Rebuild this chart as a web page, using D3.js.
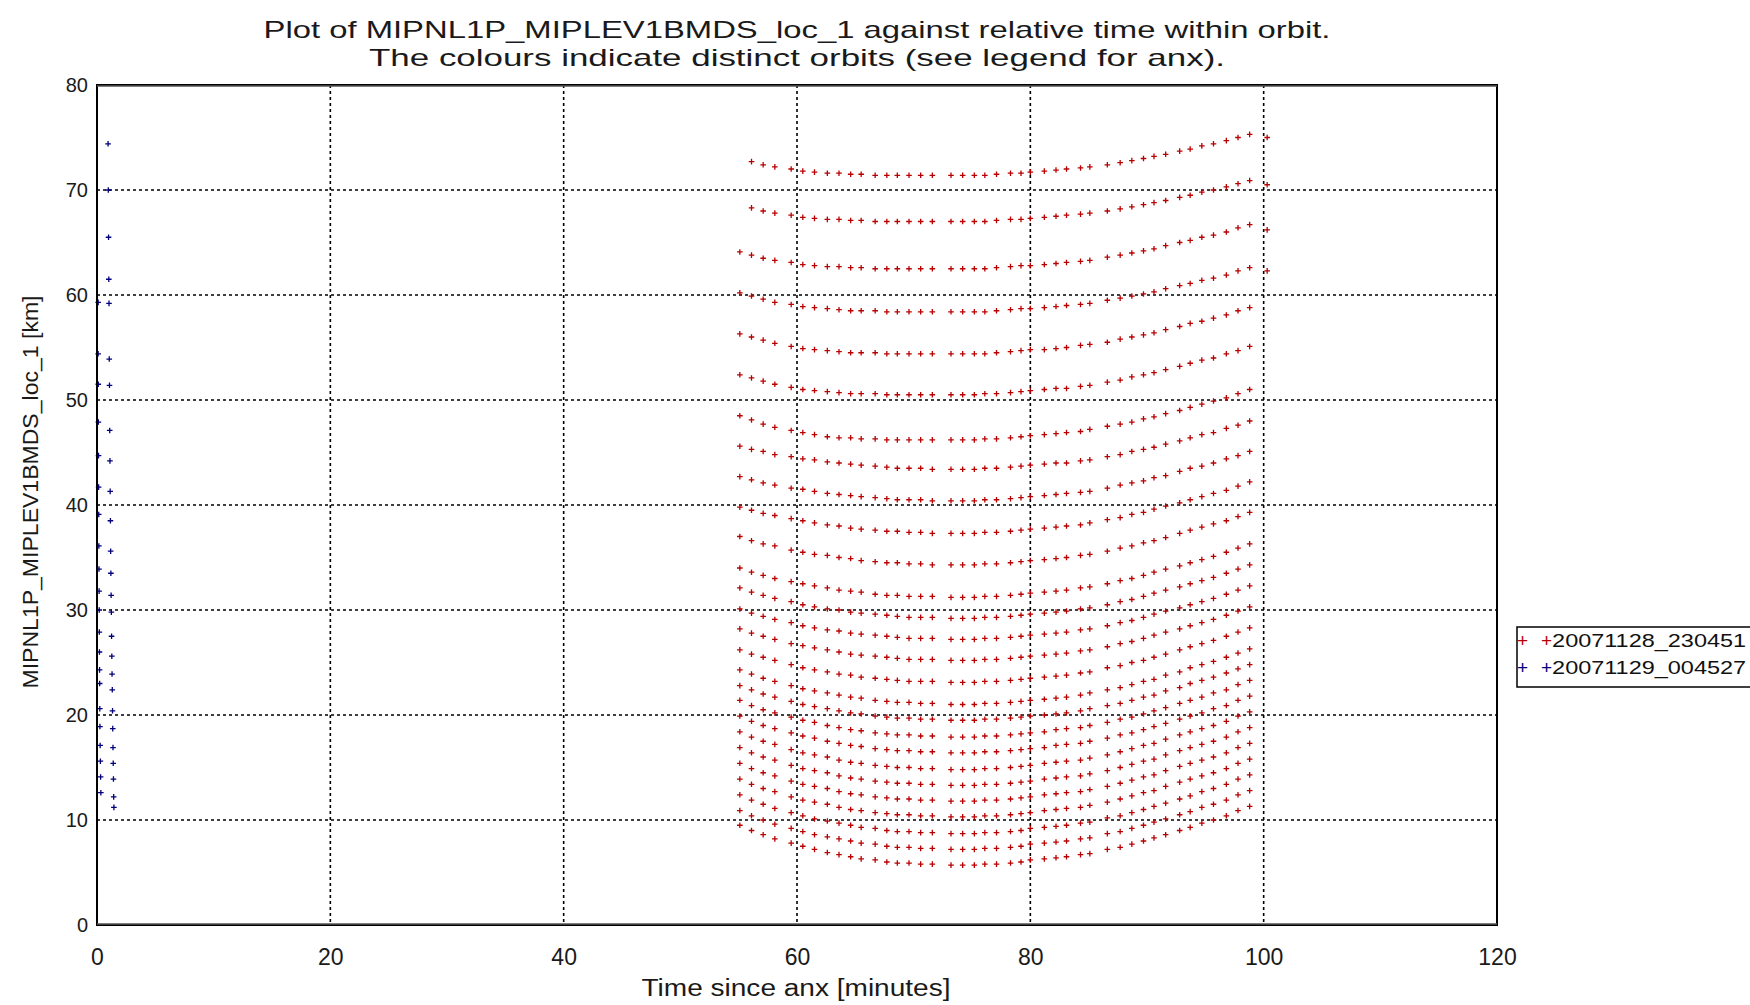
<!DOCTYPE html>
<html>
<head>
<meta charset="utf-8">
<script src="https://cdnjs.cloudflare.com/ajax/libs/d3/7.8.5/d3.min.js"></script>
<style>
  body { margin: 0; background: #fff; }
  text { font-family: "Liberation Sans", Arial, sans-serif; fill: #1a1a1a; }
</style>
</head>
<body>
<svg id="chart"></svg>
<script>

var titleLines = ["Plot of MIPNL1P_MIPLEV1BMDS_loc_1 against relative time within orbit.",
                  "The colours indicate distinct orbits (see legend for anx)."];
var xLabel = "Time since anx [minutes]";
var yLabel = "MIPNL1P_MIPLEV1BMDS_loc_1 [km]";
var xTicks = [0, 20, 40, 60, 80, 100, 120];
var yTicks = [0, 10, 20, 30, 40, 50, 60, 70, 80];
var legendLabels = ["+20071128_230451", "+20071129_004527"];
var seriesColors = ["#b80000", "#00007a"];

// orbit 20071128_230451 : scan times (minutes since anx)
var redTimes = [55.1, 56.1, 57.1, 58.1,
  59.5, 60.5, 61.5, 62.6, 63.6, 64.6, 65.5, 66.7, 67.7, 68.6, 69.6, 70.6, 71.6,
  73.2, 74.2, 75.2,
  76.1, 77.1, 78.3, 79.2, 80.0, 81.2, 82.2, 83.1, 84.3, 85.1,
  86.6, 87.7, 88.7, 89.7, 90.6, 91.6, 92.8, 93.7, 94.7, 95.7, 96.8, 97.8, 98.8,
  100.3];

// tangent altitudes [km], one list per sweep, same order as redTimes
var redSweeps = [
  [null, 72.7, 72.4, 72.2, 72.0, 71.8, 71.7, 71.6, 71.6, 71.5, 71.5, 71.4, 71.4, 71.4, 71.4, 71.4, 71.4, 71.4, 71.4, 71.4, 71.4, 71.5, 71.6, 71.6, 71.7, 71.8, 71.9, 72.0, 72.1, 72.2, 72.4, 72.6, 72.8, 73.0, 73.2, 73.4, 73.7, 73.9, 74.2, 74.4, 74.7, 75.0, 75.3, 75.0],
  [null, 68.3, 68.0, 67.8, 67.6, 67.4, 67.3, 67.2, 67.2, 67.1, 67.1, 67.0, 67.0, 67.0, 67.0, 67.0, 67.0, 67.0, 67.0, 67.0, 67.0, 67.1, 67.2, 67.2, 67.3, 67.4, 67.5, 67.6, 67.7, 67.8, 68.0, 68.2, 68.4, 68.6, 68.8, 69.0, 69.3, 69.5, 69.8, 70.0, 70.3, 70.6, 70.9, 70.5],
  [64.1, 63.8, 63.5, 63.3, 63.1, 62.9, 62.8, 62.7, 62.7, 62.6, 62.6, 62.5, 62.5, 62.5, 62.5, 62.5, 62.5, 62.5, 62.5, 62.5, 62.5, 62.6, 62.7, 62.8, 62.8, 62.9, 63.0, 63.1, 63.2, 63.3, 63.6, 63.8, 64.0, 64.2, 64.4, 64.7, 65.0, 65.2, 65.5, 65.7, 66.0, 66.4, 66.7, 66.2],
  [60.2, 59.9, 59.6, 59.3, 59.1, 58.9, 58.8, 58.7, 58.6, 58.5, 58.5, 58.5, 58.4, 58.4, 58.4, 58.4, 58.4, 58.4, 58.4, 58.4, 58.4, 58.5, 58.6, 58.7, 58.7, 58.8, 58.9, 59.0, 59.1, 59.2, 59.5, 59.7, 59.9, 60.1, 60.3, 60.6, 60.9, 61.1, 61.4, 61.6, 61.9, 62.3, 62.6, 62.3],
  [56.3, 56.0, 55.7, 55.4, 55.1, 54.9, 54.8, 54.7, 54.6, 54.5, 54.5, 54.5, 54.4, 54.4, 54.4, 54.4, 54.4, 54.4, 54.4, 54.4, 54.4, 54.5, 54.6, 54.7, 54.8, 54.8, 54.9, 55.0, 55.2, 55.3, 55.5, 55.8, 56.0, 56.2, 56.4, 56.7, 57.0, 57.3, 57.5, 57.8, 58.1, 58.5, 58.8, null],
  [52.4, 52.1, 51.8, 51.5, 51.2, 51.0, 50.9, 50.8, 50.7, 50.6, 50.6, 50.6, 50.5, 50.5, 50.5, 50.5, 50.5, 50.5, 50.5, 50.5, 50.6, 50.6, 50.7, 50.8, 50.9, 51.0, 51.1, 51.1, 51.3, 51.4, 51.7, 51.9, 52.2, 52.4, 52.6, 52.9, 53.2, 53.5, 53.8, 54.0, 54.4, 54.7, 55.1, null],
  [48.5, 48.1, 47.7, 47.4, 47.1, 46.9, 46.7, 46.5, 46.4, 46.4, 46.3, 46.3, 46.2, 46.2, 46.2, 46.2, 46.2, 46.2, 46.2, 46.2, 46.3, 46.3, 46.4, 46.5, 46.6, 46.7, 46.8, 46.9, 47.0, 47.2, 47.5, 47.7, 47.9, 48.2, 48.4, 48.7, 49.0, 49.3, 49.6, 49.9, 50.2, 50.6, 51.0, null],
  [45.6, 45.3, 45.1, 44.8, 44.6, 44.4, 44.3, 44.1, 44.0, 43.9, 43.8, 43.7, 43.6, 43.5, 43.5, 43.5, 43.4, 43.4, 43.4, 43.4, 43.5, 43.5, 43.6, 43.7, 43.8, 43.9, 44.0, 44.0, 44.2, 44.3, 44.6, 44.8, 45.1, 45.3, 45.5, 45.8, 46.1, 46.4, 46.7, 46.9, 47.3, 47.6, 48.0, null],
  [42.7, 42.4, 42.1, 41.9, 41.6, 41.5, 41.3, 41.1, 41.0, 40.9, 40.8, 40.7, 40.6, 40.5, 40.5, 40.5, 40.4, 40.4, 40.4, 40.4, 40.5, 40.5, 40.6, 40.7, 40.8, 40.9, 41.0, 41.1, 41.2, 41.3, 41.6, 41.9, 42.1, 42.3, 42.6, 42.8, 43.2, 43.5, 43.7, 44.0, 44.4, 44.7, 45.1, null],
  [39.8, 39.5, 39.2, 39.0, 38.7, 38.5, 38.3, 38.1, 38.0, 37.8, 37.7, 37.6, 37.5, 37.5, 37.4, 37.4, 37.3, 37.3, 37.3, 37.3, 37.4, 37.4, 37.5, 37.6, 37.7, 37.8, 37.9, 38.0, 38.1, 38.3, 38.6, 38.8, 39.1, 39.3, 39.6, 39.9, 40.2, 40.5, 40.8, 41.1, 41.4, 41.8, 42.2, null],
  [37.0, 36.6, 36.3, 36.1, 35.7, 35.5, 35.3, 35.2, 35.0, 34.9, 34.7, 34.6, 34.5, 34.5, 34.4, 34.4, 34.3, 34.3, 34.3, 34.3, 34.4, 34.4, 34.5, 34.6, 34.7, 34.8, 34.9, 35.0, 35.2, 35.3, 35.6, 35.9, 36.1, 36.4, 36.6, 36.9, 37.3, 37.6, 37.9, 38.2, 38.5, 38.9, 39.3, null],
  [34.0, 33.6, 33.3, 33.0, 32.7, 32.5, 32.3, 32.1, 31.9, 31.8, 31.7, 31.5, 31.4, 31.4, 31.3, 31.3, 31.3, 31.2, 31.2, 31.2, 31.3, 31.3, 31.4, 31.5, 31.6, 31.7, 31.8, 31.9, 32.1, 32.2, 32.5, 32.8, 33.0, 33.3, 33.6, 33.9, 34.2, 34.5, 34.8, 35.1, 35.5, 35.9, 36.3, null],
  [32.1, 31.7, 31.4, 31.1, 30.8, 30.5, 30.3, 30.1, 30.0, 29.8, 29.7, 29.6, 29.5, 29.4, 29.3, 29.3, 29.3, 29.2, 29.2, 29.2, 29.3, 29.3, 29.4, 29.5, 29.6, 29.7, 29.8, 29.9, 30.1, 30.2, 30.5, 30.8, 31.0, 31.3, 31.6, 31.9, 32.2, 32.5, 32.8, 33.1, 33.5, 33.9, 34.3, null],
  [30.1, 29.7, 29.4, 29.1, 28.8, 28.5, 28.3, 28.1, 28.0, 27.8, 27.7, 27.6, 27.5, 27.4, 27.3, 27.3, 27.3, 27.2, 27.2, 27.2, 27.3, 27.3, 27.4, 27.5, 27.6, 27.7, 27.8, 27.9, 28.1, 28.2, 28.5, 28.8, 29.0, 29.3, 29.6, 29.9, 30.2, 30.5, 30.8, 31.1, 31.5, 31.9, 32.3, null],
  [28.2, 27.8, 27.5, 27.2, 26.8, 26.6, 26.4, 26.2, 26.0, 25.8, 25.7, 25.6, 25.5, 25.4, 25.3, 25.3, 25.3, 25.2, 25.2, 25.2, 25.3, 25.3, 25.4, 25.5, 25.6, 25.7, 25.8, 25.9, 26.1, 26.2, 26.5, 26.8, 27.0, 27.3, 27.6, 27.9, 28.2, 28.5, 28.8, 29.1, 29.5, 29.9, 30.3, null],
  [26.2, 25.8, 25.5, 25.2, 24.8, 24.5, 24.3, 24.1, 23.9, 23.8, 23.6, 23.5, 23.4, 23.3, 23.2, 23.2, 23.2, 23.1, 23.1, 23.1, 23.2, 23.2, 23.3, 23.4, 23.5, 23.6, 23.7, 23.8, 24.0, 24.1, 24.5, 24.7, 25.0, 25.2, 25.5, 25.8, 26.2, 26.5, 26.8, 27.1, 27.5, 27.9, 28.3, null],
  [24.3, 23.9, 23.5, 23.2, 22.8, 22.5, 22.3, 22.1, 21.9, 21.7, 21.6, 21.4, 21.3, 21.2, 21.2, 21.1, 21.1, 21.0, 21.0, 21.0, 21.1, 21.1, 21.2, 21.3, 21.4, 21.5, 21.6, 21.7, 21.9, 22.1, 22.4, 22.6, 22.9, 23.2, 23.4, 23.8, 24.1, 24.5, 24.8, 25.1, 25.5, 25.9, 26.3, null],
  [22.8, 22.4, 22.0, 21.7, 21.3, 21.0, 20.8, 20.6, 20.4, 20.2, 20.1, 19.9, 19.8, 19.7, 19.7, 19.6, 19.6, 19.5, 19.5, 19.5, 19.6, 19.6, 19.7, 19.8, 19.9, 20.0, 20.1, 20.2, 20.4, 20.6, 20.9, 21.1, 21.4, 21.7, 21.9, 22.3, 22.6, 23.0, 23.3, 23.6, 24.0, 24.4, 24.8, null],
  [21.4, 20.9, 20.5, 20.2, 19.8, 19.5, 19.3, 19.0, 18.8, 18.6, 18.5, 18.3, 18.2, 18.1, 18.1, 18.0, 18.0, 17.9, 17.9, 17.9, 18.0, 18.0, 18.1, 18.2, 18.3, 18.4, 18.6, 18.7, 18.8, 19.0, 19.3, 19.6, 19.8, 20.1, 20.4, 20.7, 21.1, 21.4, 21.7, 22.1, 22.4, 22.9, 23.3, null],
  [19.9, 19.4, 19.0, 18.7, 18.3, 18.0, 17.8, 17.5, 17.3, 17.1, 17.0, 16.8, 16.7, 16.6, 16.6, 16.5, 16.5, 16.4, 16.4, 16.4, 16.5, 16.5, 16.6, 16.7, 16.8, 16.9, 17.1, 17.2, 17.3, 17.5, 17.8, 18.1, 18.3, 18.6, 18.9, 19.2, 19.6, 19.9, 20.2, 20.6, 20.9, 21.4, 21.8, null],
  [18.4, 17.9, 17.5, 17.2, 16.7, 16.4, 16.2, 16.0, 15.7, 15.5, 15.4, 15.2, 15.1, 15.0, 15.0, 14.9, 14.9, 14.8, 14.8, 14.8, 14.9, 14.9, 15.0, 15.1, 15.2, 15.4, 15.5, 15.6, 15.7, 15.9, 16.2, 16.5, 16.8, 17.1, 17.3, 17.7, 18.1, 18.4, 18.7, 19.0, 19.4, 19.9, 20.3, null],
  [16.9, 16.4, 16.0, 15.7, 15.2, 14.9, 14.7, 14.5, 14.2, 14.0, 13.9, 13.7, 13.6, 13.5, 13.5, 13.4, 13.4, 13.3, 13.3, 13.3, 13.4, 13.4, 13.5, 13.6, 13.7, 13.9, 14.0, 14.1, 14.2, 14.4, 14.7, 15.0, 15.3, 15.6, 15.8, 16.2, 16.6, 16.9, 17.2, 17.5, 17.9, 18.4, 18.8, null],
  [15.4, 14.9, 14.5, 14.2, 13.7, 13.4, 13.2, 13.0, 12.7, 12.5, 12.4, 12.2, 12.1, 12.0, 12.0, 11.9, 11.9, 11.8, 11.8, 11.8, 11.9, 11.9, 12.0, 12.1, 12.2, 12.4, 12.5, 12.6, 12.7, 12.9, 13.2, 13.5, 13.8, 14.1, 14.3, 14.7, 15.1, 15.4, 15.7, 16.0, 16.4, 16.9, 17.3, null],
  [13.9, 13.4, 13.0, 12.7, 12.2, 11.9, 11.7, 11.5, 11.2, 11.0, 10.9, 10.7, 10.6, 10.5, 10.5, 10.4, 10.4, 10.3, 10.3, 10.3, 10.4, 10.4, 10.5, 10.6, 10.7, 10.9, 11.0, 11.1, 11.2, 11.4, 11.7, 12.0, 12.3, 12.6, 12.8, 13.2, 13.6, 13.9, 14.2, 14.5, 14.9, 15.4, 15.8, null],
  [12.4, 11.9, 11.5, 11.1, 10.7, 10.4, 10.1, 9.9, 9.7, 9.5, 9.3, 9.2, 9.0, 8.9, 8.9, 8.8, 8.8, 8.7, 8.7, 8.7, 8.8, 8.8, 8.9, 9.0, 9.2, 9.3, 9.4, 9.5, 9.7, 9.8, 10.2, 10.4, 10.7, 11.0, 11.3, 11.6, 12.0, 12.3, 12.7, 13.0, 13.4, 13.9, 14.3, null],
  [10.9, 10.4, 10.0, 9.6, 9.2, 8.9, 8.6, 8.4, 8.2, 8.0, 7.8, 7.7, 7.5, 7.4, 7.4, 7.3, 7.3, 7.2, 7.2, 7.2, 7.3, 7.3, 7.4, 7.5, 7.7, 7.8, 7.9, 8.0, 8.2, 8.3, 8.7, 8.9, 9.2, 9.5, 9.8, 10.1, 10.5, 10.8, 11.2, 11.5, 11.9, 12.4, 12.8, null],
  [9.5, 9.0, 8.6, 8.2, 7.8, 7.5, 7.2, 6.9, 6.7, 6.5, 6.3, 6.2, 6.0, 5.9, 5.9, 5.8, 5.8, 5.7, 5.7, 5.7, 5.8, 5.8, 5.9, 6.0, 6.2, 6.3, 6.4, 6.5, 6.7, 6.8, 7.2, 7.4, 7.7, 8.0, 8.3, 8.6, 9.0, 9.3, 9.7, 10.0, 10.4, 10.9, 11.3, null]
];

// orbit 20071129_004527 : two scans just after anx
var blueTimesA = [0.10, 0.10, 0.11, 0.12, 0.13, 0.14, 0.15, 0.16, 0.17, 0.18, 0.19, 0.20, 0.21, 0.22, 0.23, 0.24, 0.25, 0.27, 0.29, 0.31, 0.33];
var blueAltsA = [59.3, 54.4, 51.5, 47.9, 44.7, 41.7, 39.1, 36.1, 33.9, 31.8, 30.0, 27.9, 26.0, 24.3, 23.0, 20.6, 18.9, 17.1, 15.6, 14.1, 12.6];
var blueTimesB = [0.95, 0.97, 0.99, 1.01, 1.03, 1.05, 1.07, 1.09, 1.11, 1.13, 1.15, 1.17, 1.19, 1.21, 1.23, 1.25, 1.27, 1.29, 1.31, 1.33, 1.35, 1.37, 1.39, 1.41, 1.43, 1.45];
var blueAltsB = [74.4, 70.0, 65.5, 61.5, 59.2, 53.9, 51.4, 47.1, 44.2, 41.3, 38.5, 35.6, 33.5, 31.4, 29.8, 27.5, 25.6, 23.9, 22.4, 20.4, 18.7, 16.9, 15.4, 13.9, 12.2, 11.2];


var width = 1750, height = 1005;
var plot = {left: 97, right: 1497, top: 85, bottom: 925};

var svg = d3.select('#chart')
            .attr("width", width)
            .attr("height", height);

svg.append("rect").attr("width", width).attr("height", height).attr("fill", "#fff");

var x = d3.scaleLinear().domain([0, 120]).range([plot.left, plot.right]);
var y = d3.scaleLinear().domain([0, 80]).range([plot.bottom, plot.top]);

/*
  dotted grid at the inner ticks
*/
svg.append("g").selectAll("line")
   .data(xTicks.slice(1, -1))
   .enter().append("line")
   .attr("x1", function(d) { return x(d); })
   .attr("x2", function(d) { return x(d); })
   .attr("y1", plot.top)
   .attr("y2", plot.bottom)
   .attr("stroke", "#000")
   .attr("stroke-width", 1.6)
   .attr("stroke-dasharray", "3,3");

svg.append("g").selectAll("line")
   .data(yTicks.slice(1, -1))
   .enter().append("line")
   .attr("x1", plot.left)
   .attr("x2", plot.right)
   .attr("y1", function(d) { return y(d); })
   .attr("y2", function(d) { return y(d); })
   .attr("stroke", "#000")
   .attr("stroke-width", 1.6)
   .attr("stroke-dasharray", "3,3");

/*
  the points, drawn as small plus signs
*/
var plus = "M-2.8,0H2.8M0,-2.8V2.8";
var marks = svg.append("g");

redSweeps.forEach(function(sweep) {
  var pts = sweep.map(function(v, i) { return {t: redTimes[i], alt: v}; })
                 .filter(function(d) { return d.alt !== null; });
  marks.append("g").selectAll("path")
       .data(pts)
       .enter().append("path")
       .attr("d", plus)
       .attr("transform", function(d) { return "translate(" + x(d.t) + "," + y(d.alt) + ")"; })
       .attr("stroke", seriesColors[0])
       .attr("stroke-width", 1.3)
       .attr("fill", "none");
});

[[blueTimesA, blueAltsA], [blueTimesB, blueAltsB]].forEach(function(scan) {
  marks.append("g").selectAll("path")
       .data(scan[1])
       .enter().append("path")
       .attr("d", plus)
       .attr("transform", function(d, i) { return "translate(" + x(scan[0][i]) + "," + y(d) + ")"; })
       .attr("stroke", seriesColors[1])
       .attr("stroke-width", 1.3)
       .attr("fill", "none");
});

// frame
svg.append("rect")
   .attr("x", plot.left).attr("y", plot.top)
   .attr("width", plot.right - plot.left).attr("height", plot.bottom - plot.top)
   .attr("fill", "none").attr("stroke", "#000").attr("stroke-width", 2);
svg.append("line").attr("x1", plot.left).attr("x2", plot.right).attr("y1", plot.top + 1).attr("y2", plot.top + 1)
   .attr("stroke", "#555").attr("stroke-width", 1.5);
svg.append("line").attr("x1", plot.left).attr("x2", plot.right).attr("y1", plot.bottom - 1).attr("y2", plot.bottom - 1)
   .attr("stroke", "#555").attr("stroke-width", 1.5);

/*
  axes: only the labels, the grid does the rest
*/
var xAxis = svg.append("g")
               .attr("transform", "translate(0," + plot.bottom + ")")
               .call(d3.axisBottom(x).tickValues(xTicks).tickSize(0).tickPadding(24).tickFormat(d3.format("d")));
xAxis.select(".domain").remove();
xAxis.selectAll("text")
     .attr("font-family", "Liberation Sans, Arial, sans-serif")
     .attr("font-size", 23)
     .attr("fill", "#1a1a1a");

var yAxis = svg.append("g")
               .attr("transform", "translate(" + (plot.left - 9) + ",0)")
               .call(d3.axisLeft(y).tickValues(yTicks).tickSize(0).tickPadding(0).tickFormat(d3.format("d")));
yAxis.select(".domain").remove();
yAxis.selectAll("text")
     .attr("font-family", "DejaVu Sans, sans-serif")
     .attr("font-size", 20)
     .attr("fill", "#1a1a1a");

svg.append("text")
   .attr("x", 796).attr("y", 996)
   .attr("text-anchor", "middle")
   .attr("font-size", 23)
   .attr("textLength", 309).attr("lengthAdjust", "spacingAndGlyphs")
   .text(xLabel);

svg.append("text")
   .attr("transform", "translate(38,492) rotate(-90)")
   .attr("text-anchor", "middle")
   .attr("font-size", 22)
   .attr("textLength", 393).attr("lengthAdjust", "spacingAndGlyphs")
   .text(yLabel);

svg.selectAll(".title")
   .data(titleLines)
   .enter().append("text")
   .attr("class", "title")
   .attr("x", 797)
   .attr("y", function(d, i) { return 38 + i * 28; })
   .attr("text-anchor", "middle")
   .attr("font-size", 24)
   .attr("textLength", function(d, i) { return i === 0 ? 1067 : 856; })
   .attr("lengthAdjust", "spacingAndGlyphs")
   .text(function(d) { return d; });

/*
  legend, cut by the right edge like the original
*/
var legend = svg.append("g");
legend.append("rect")
      .attr("x", 1517).attr("y", 627)
      .attr("width", 260).attr("height", 60)
      .attr("fill", "#fff").attr("stroke", "#000").attr("stroke-width", 1.5);

legendLabels.forEach(function(label, i) {
  var t = legend.append("text")
                .attr("x", 1517)
                .attr("y", 647 + i * 27)
                .attr("font-family", "DejaVu Sans, sans-serif")
                .attr("font-size", 19);
  t.append("tspan").attr("fill", seriesColors[i]).text("+");
  t.append("tspan").attr("x", 1541).attr("fill", seriesColors[i]).text(label.slice(0, 1));
  t.append("tspan").attr("fill", "#111").text(label.slice(1))
   .attr("textLength", 194).attr("lengthAdjust", "spacingAndGlyphs");
});

</script>
</body>
</html>
